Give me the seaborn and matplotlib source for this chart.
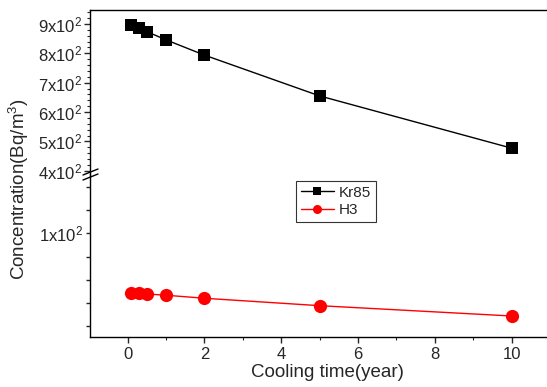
import matplotlib
matplotlib.use("Agg")
import matplotlib.pyplot as plt
from matplotlib.lines import Line2D
from matplotlib.ticker import MultipleLocator, FixedLocator, FixedFormatter
import seaborn as sns
import pandas as pd

times = [0.1, 0.3, 0.5, 1, 2, 5, 10]
kr85 = [897, 885, 874, 846, 794, 655, 477]
h3 = [48.8, 48.3, 47.7, 46.6, 44.0, 37.6, 28.7]
upper_ticks = [400, 500, 600, 700, 800, 900]
upper_labels = ["4x10$^2$", "5x10$^2$", "6x10$^2$", "7x10$^2$", "8x10$^2$", "9x10$^2$"]
lower_ticks = [20, 40, 60, 80, 100, 120, 140]
lower_labels = ["", "", "", "", "1x10$^2$", "", ""]
x_ticks = [0, 2, 4, 6, 8, 10]

sns.set_style("ticks")
plt.rcParams["font.family"] = ["Liberation Sans", "DejaVu Sans"]
plt.rcParams["mathtext.fontset"] = "custom"
plt.rcParams["mathtext.rm"] = "Liberation Sans"
plt.rcParams["mathtext.it"] = "Liberation Sans:italic"
plt.rcParams["mathtext.bf"] = "Liberation Sans:bold"
plt.rcParams["mathtext.default"] = "regular"

df_kr = pd.DataFrame({"t": times, "c": kr85})
df_h = pd.DataFrame({"t": times, "c": h3})

fig = plt.figure(figsize=(5.47, 3.87), dpi=100)
W, H = 547, 387
left = 90 / W
right_px = 556
axw = (right_px - 90) / W
ax_up = fig.add_axes([left, (H - 174) / H, axw, (174 - 10) / H])
ax_lo = fig.add_axes([left, (H - 337) / H, axw, (337 - 176) / H])

sns.lineplot(data=df_kr, x="t", y="c", ax=ax_up, color="black", marker="s",
             markersize=8.5, markeredgewidth=0, linewidth=1, legend=False)
sns.lineplot(data=df_h, x="t", y="c", ax=ax_lo, color="red", marker="o",
             markersize=9.5, markeredgewidth=0, linewidth=1, legend=False)

xlim = (-0.98, -0.98 + (right_px - 90) / 38.4)
for ax in (ax_up, ax_lo):
    ax.set_xlim(*xlim)
    ax.set_facecolor("none")
    for s in ax.spines.values():
        s.set_color("black")
        s.set_linewidth(1)
    ax.spines["right"].set_visible(False)
    ax.tick_params(right=False, which="both")
    ax.set_xlabel("")
    ax.set_ylabel("")

ax_up.set_ylim(389, 947.7)
ax_up.spines["bottom"].set_visible(False)
ax_up.tick_params(axis="x", which="both", bottom=False, labelbottom=False)
ax_up.yaxis.set_major_locator(FixedLocator(upper_ticks))
ax_up.yaxis.set_major_formatter(FixedFormatter(upper_labels))
ax_up.yaxis.set_minor_locator(MultipleLocator(20))
ax_up.tick_params(axis="y", which="major", direction="out", length=4, width=1, labelsize=12, pad=2)
ax_up.tick_params(axis="y", which="minor", direction="out", length=2, width=0.8)

ax_lo.set_ylim(10.6, 149.4)
ax_lo.spines["top"].set_visible(False)
ax_lo.yaxis.set_major_locator(FixedLocator(lower_ticks))
ax_lo.yaxis.set_major_formatter(FixedFormatter(lower_labels))
ax_lo.tick_params(axis="y", which="major", direction="out", length=3, width=1, labelsize=12, pad=2)
ax_lo.xaxis.set_major_locator(FixedLocator(x_ticks))
ax_lo.xaxis.set_minor_locator(MultipleLocator(1))
ax_lo.tick_params(axis="x", which="major", direction="out", length=4, width=1, labelsize=12, pad=3)
ax_lo.tick_params(axis="x", which="minor", direction="out", length=2, width=0.8)
ax_lo.set_xlabel("Cooling time(year)", fontsize=13.5)
ax_lo.xaxis.set_label_coords((327 - 90) / (right_px - 90), -0.17)

# connect the left spine across the break
fig.add_artist(Line2D([left, left], [(H - 176) / H, (H - 174) / H], color="black", lw=1,
                      transform=fig.transFigure))
# break marks
for dy in (0, 5):
    y0 = H - 177 + dy
    fig.add_artist(Line2D([83 / W, 98 / W], [(y0 - 3) / H, (y0 + 3) / H], color="black",
                          lw=1, transform=fig.transFigure))

fig.text(19 / W, (H - 189) / H, "Concentration(Bq/m$^3$)", rotation=90, fontsize=13.5,
         ha="center", va="center")

handles = [
    Line2D([], [], color="black", marker="s", markersize=6, linewidth=1, markeredgewidth=0),
    Line2D([], [], color="red", marker="o", markersize=6.5, linewidth=1, markeredgewidth=0),
]
leg = fig.legend(handles, ["Kr85", "H3"], loc="upper left",
                 bbox_to_anchor=(296 / W, (H - 181) / H), fontsize=11, frameon=True,
                 fancybox=False, edgecolor="black", handlelength=2.2, handletextpad=0.3,
                 borderpad=0.3, labelspacing=0.25, borderaxespad=0)
leg.get_frame().set_linewidth(0.8)

fig.savefig("out.png", dpi=100)
